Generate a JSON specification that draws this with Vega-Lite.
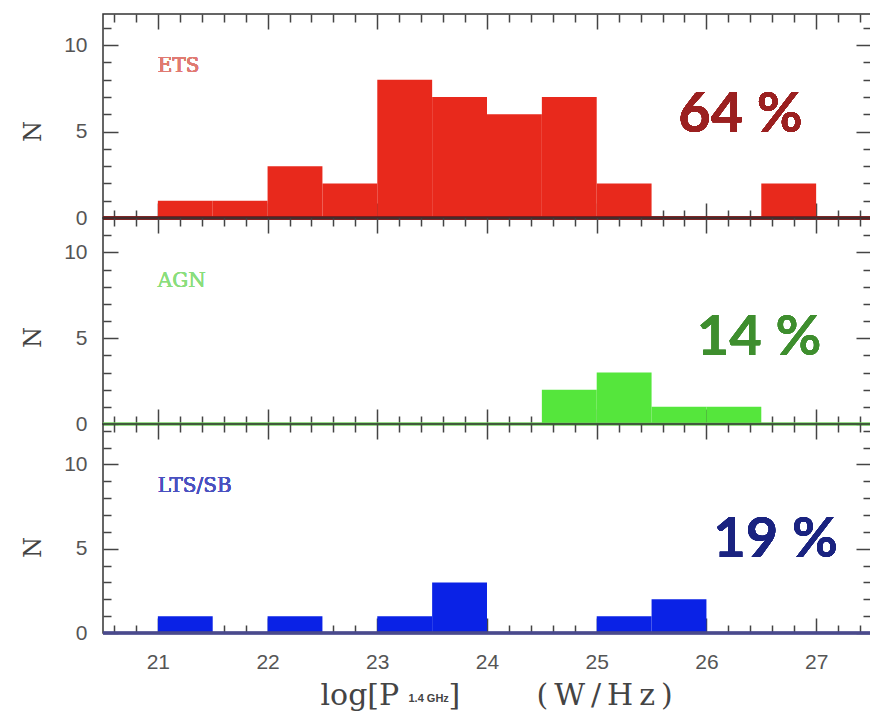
{
  "$schema": "https://vega.github.io/schema/vega-lite/v6.json",
  "background": "white",
  "padding": {"left": 20, "top": 13, "right": 0, "bottom": 10},
  "bounds": "flush",
  "spacing": 0,
  "datasets": {
    "hist": [
      {"type": "ETS", "lo": 21.0, "hi": 21.5, "n": 1},
      {"type": "ETS", "lo": 21.5, "hi": 22.0, "n": 1},
      {"type": "ETS", "lo": 22.0, "hi": 22.5, "n": 3},
      {"type": "ETS", "lo": 22.5, "hi": 23.0, "n": 2},
      {"type": "ETS", "lo": 23.0, "hi": 23.5, "n": 8},
      {"type": "ETS", "lo": 23.5, "hi": 24.0, "n": 7},
      {"type": "ETS", "lo": 24.0, "hi": 24.5, "n": 6},
      {"type": "ETS", "lo": 24.5, "hi": 25.0, "n": 7},
      {"type": "ETS", "lo": 25.0, "hi": 25.5, "n": 2},
      {"type": "ETS", "lo": 26.5, "hi": 27.0, "n": 2},
      {"type": "AGN", "lo": 24.5, "hi": 25.0, "n": 2},
      {"type": "AGN", "lo": 25.0, "hi": 25.5, "n": 3},
      {"type": "AGN", "lo": 25.5, "hi": 26.0, "n": 1},
      {"type": "AGN", "lo": 26.0, "hi": 26.5, "n": 1},
      {"type": "LTS/SB", "lo": 21.0, "hi": 21.5, "n": 1},
      {"type": "LTS/SB", "lo": 22.0, "hi": 22.5, "n": 1},
      {"type": "LTS/SB", "lo": 23.0, "hi": 23.5, "n": 1},
      {"type": "LTS/SB", "lo": 23.5, "hi": 24.0, "n": 3},
      {"type": "LTS/SB", "lo": 25.0, "hi": 25.5, "n": 1},
      {"type": "LTS/SB", "lo": 25.5, "hi": 26.0, "n": 2}
    ]
  },
  "vconcat": [
    {
      "width": 768,
      "height": 204,
      "data": {"name": "hist"},
      "transform": [{"filter": "datum.type === 'ETS'"}],
      "resolve": {"axis": {"x": "independent", "y": "independent"}},
      "layer": [
        {
          "mark": {"type": "bar", "color": "#e8291c"},
          "encoding": {
            "x": {"field": "lo", "type": "quantitative", "scale": {"domain": [20.5, 27.5], "nice": false, "zero": false},
              "axis": {"orient": "bottom", "title": null, "labels": false, "grid": true,
                "values": [20.6,20.8,21,21.2,21.4,21.6,21.8,22,22.2,22.4,22.6,22.8,23,23.2,23.4,23.6,23.8,24,24.2,24.4,24.6,24.8,25,25.2,25.4,25.6,25.8,26,26.2,26.4,26.6,26.8,27,27.2,27.4],
                "gridDash": {"condition": {"test": "abs(datum.value - round(datum.value)) < 0.01", "value": [15, 174, 15, 1000]}, "value": [8, 188, 8, 1000]}}},
            "x2": {"field": "hi"},
            "y": {"field": "n", "type": "quantitative", "scale": {"domain": [0, 11.8], "nice": false},
              "axis": {"orient": "left", "title": "N", "titleX": -70, "titleY": 117, "titleAngle": -90, "titleAlign": "center", "titleBaseline": "middle",
                "grid": true, "values": [0,1,2,3,4,5,6,7,8,9,10,11], "labelPadding": 16,
                "labelExpr": "datum.value % 5 === 0 ? datum.label : ''",
                "gridDash": {"condition": {"test": "datum.value % 5 === 0", "value": [15, 738, 15, 2000]}, "value": [8, 752, 8, 2000]}}},
            "y2": {"datum": 0}
          }
        },
        {
          "mark": {"type": "rule", "color": "#7a1f1f", "strokeWidth": 2.5},
          "encoding": {
            "x": {"datum": 20.5, "type": "quantitative", "axis": null},
            "x2": {"datum": 27.5},
            "y": {"datum": 0, "type": "quantitative", "axis": null}
          }
        },
        {
          "mark": {"type": "text", "text": "ETS", "font": "DejaVu Serif", "fontSize": 20, "color": "#e07a72", "align": "left", "baseline": "middle"},
          "encoding": {
            "x": {"datum": 21, "type": "quantitative", "axis": null},
            "y": {"datum": 8.8, "type": "quantitative", "axis": null}
          }
        },
        {
          "mark": {"type": "text", "text": "64 %", "font": "Lato", "fontWeight": "bold", "fontSize": 56, "color": "#9b2020", "align": "center", "baseline": "middle"},
          "encoding": {
            "x": {"datum": 26.31, "type": "quantitative", "axis": null},
            "y": {"datum": 5.95, "type": "quantitative", "axis": null}
          }
        }
      ]
    },
    {
      "width": 768,
      "height": 206,
      "data": {"name": "hist"},
      "transform": [{"filter": "datum.type === 'AGN'"}],
      "resolve": {"axis": {"x": "independent", "y": "independent"}},
      "layer": [
        {
          "mark": {"type": "bar", "color": "#55e63c"},
          "encoding": {
            "x": {"field": "lo", "type": "quantitative", "scale": {"domain": [20.5, 27.5], "nice": false, "zero": false},
              "axis": {"orient": "bottom", "title": null, "labels": false, "grid": true,
                "values": [20.6,20.8,21,21.2,21.4,21.6,21.8,22,22.2,22.4,22.6,22.8,23,23.2,23.4,23.6,23.8,24,24.2,24.4,24.6,24.8,25,25.2,25.4,25.6,25.8,26,26.2,26.4,26.6,26.8,27,27.2,27.4],
                "gridDash": {"condition": {"test": "abs(datum.value - round(datum.value)) < 0.01", "value": [15, 176, 15, 1000]}, "value": [8, 190, 8, 1000]}}},
            "x2": {"field": "hi"},
            "y": {"field": "n", "type": "quantitative", "scale": {"domain": [0, 12], "nice": false},
              "axis": {"orient": "left", "title": "N", "titleX": -70, "titleY": 119, "titleAngle": -90, "titleAlign": "center", "titleBaseline": "middle",
                "grid": true, "values": [0,1,2,3,4,5,6,7,8,9,10,11], "labelPadding": 16,
                "labelExpr": "datum.value % 5 === 0 ? datum.label : ''",
                "gridDash": {"condition": {"test": "datum.value % 5 === 0", "value": [15, 738, 15, 2000]}, "value": [8, 752, 8, 2000]}}},
            "y2": {"datum": 0}
          }
        },
        {
          "mark": {"type": "rule", "color": "#6cd05a", "strokeWidth": 2.5},
          "encoding": {
            "x": {"datum": 20.5, "type": "quantitative", "axis": null},
            "x2": {"datum": 27.5},
            "y": {"datum": 0, "type": "quantitative", "axis": null}
          }
        },
        {
          "mark": {"type": "text", "text": "AGN", "font": "DejaVu Serif", "fontSize": 20, "color": "#8ade7c", "align": "left", "baseline": "middle"},
          "encoding": {
            "x": {"datum": 21, "type": "quantitative", "axis": null},
            "y": {"datum": 8.35, "type": "quantitative", "axis": null}
          }
        },
        {
          "mark": {"type": "text", "text": "14 %", "font": "Lato", "fontWeight": "bold", "fontSize": 56, "color": "#3e8e2e", "align": "center", "baseline": "middle"},
          "encoding": {
            "x": {"datum": 26.48, "type": "quantitative", "axis": null},
            "y": {"datum": 5.03, "type": "quantitative", "axis": null}
          }
        }
      ]
    },
    {
      "width": 768,
      "height": 209,
      "data": {"name": "hist"},
      "transform": [{"filter": "datum.type === 'LTS/SB'"}],
      "resolve": {"axis": {"x": "independent", "y": "independent"}},
      "layer": [
        {
          "mark": {"type": "bar", "color": "#0a22e6"},
          "encoding": {
            "x": {"field": "lo", "type": "quantitative", "scale": {"domain": [20.5, 27.5], "nice": false, "zero": false},
              "axis": {"orient": "bottom", "title": "log[P", "titleX": 217, "titleY": 71, "titleAlign": "left", "titleBaseline": "alphabetic", "titleFontSize": 30,
                "grid": true, "labelPadding": 18,
                "values": [20.6,20.8,21,21.2,21.4,21.6,21.8,22,22.2,22.4,22.6,22.8,23,23.2,23.4,23.6,23.8,24,24.2,24.4,24.6,24.8,25,25.2,25.4,25.6,25.8,26,26.2,26.4,26.6,26.8,27,27.2,27.4],
                "labelExpr": "abs(datum.value - round(datum.value)) < 0.01 ? format(datum.value, 'd') : ''",
                "gridDash": {"condition": {"test": "abs(datum.value - round(datum.value)) < 0.01", "value": [15, 179, 15, 1000]}, "value": [8, 193, 8, 1000]}}},
            "x2": {"field": "hi"},
            "y": {"field": "n", "type": "quantitative", "scale": {"domain": [0, 12.4], "nice": false},
              "axis": {"orient": "left", "title": "N", "titleX": -70, "titleY": 123, "titleAngle": -90, "titleAlign": "center", "titleBaseline": "middle",
                "grid": true, "values": [0,1,2,3,4,5,6,7,8,9,10,11,12], "labelPadding": 16,
                "labelExpr": "datum.value % 5 === 0 ? datum.label : ''",
                "gridDash": {"condition": {"test": "datum.value % 5 === 0", "value": [15, 738, 15, 2000]}, "value": [8, 752, 8, 2000]}}},
            "y2": {"datum": 0}
          }
        },
        {
          "mark": {"type": "rule", "color": "#4a4a8c", "strokeWidth": 2.5},
          "encoding": {
            "x": {"datum": 20.5, "type": "quantitative",
              "axis": {"orient": "bottom", "title": "]\u00a0\u00a0\u00a0\u00a0\u00a0\u00a0\u00a0\u00a0(\u2009W\u2009/\u2009H\u2009z\u2009)", "titleX": 345, "titleY": 71, "titleAlign": "left", "titleBaseline": "alphabetic", "titleFontSize": 30,
                "labels": false, "grid": false, "ticks": false, "domain": false}},
            "x2": {"datum": 27.5},
            "y": {"datum": 0, "type": "quantitative", "axis": null}
          }
        },
        {
          "mark": {"type": "text", "text": "LTS/SB", "font": "DejaVu Serif", "fontSize": 20, "color": "#4a50c0", "align": "left", "baseline": "middle"},
          "encoding": {
            "x": {"datum": 21, "type": "quantitative", "axis": null},
            "y": {"datum": 8.7, "type": "quantitative", "axis": null}
          }
        },
        {
          "mark": {"type": "text", "text": "19 %", "font": "Lato", "fontWeight": "bold", "fontSize": 56, "color": "#1a2380", "align": "center", "baseline": "middle"},
          "encoding": {
            "x": {"datum": 26.63, "type": "quantitative",
              "axis": {"orient": "bottom", "title": "1.4 GHz", "titleX": 305, "titleY": 68, "titleAlign": "left", "titleBaseline": "alphabetic", "titleFontSize": 11, "titleFont": "Liberation Sans", "titleFontWeight": "bold",
                "labels": false, "grid": false, "ticks": false, "domain": false}},
            "y": {"datum": 5.52, "type": "quantitative", "axis": null}
          }
        }
      ]
    }
  ],
  "config": {
    "view": {"stroke": "#333333", "strokeWidth": 1.5},
    "axis": {
      "grid": false,
      "gridColor": "#444444",
      "gridOpacity": 1,
      "gridWidth": 1.5,
      "domain": false,
      "ticks": false,
      "tickSize": 0,
      "labelFont": "Liberation Sans",
      "labelFontSize": 21,
      "labelColor": "#555555",
      "titleFont": "DejaVu Serif",
      "titleFontSize": 24,
      "titleFontWeight": "normal",
      "titleColor": "#444444"
    }
  }
}
